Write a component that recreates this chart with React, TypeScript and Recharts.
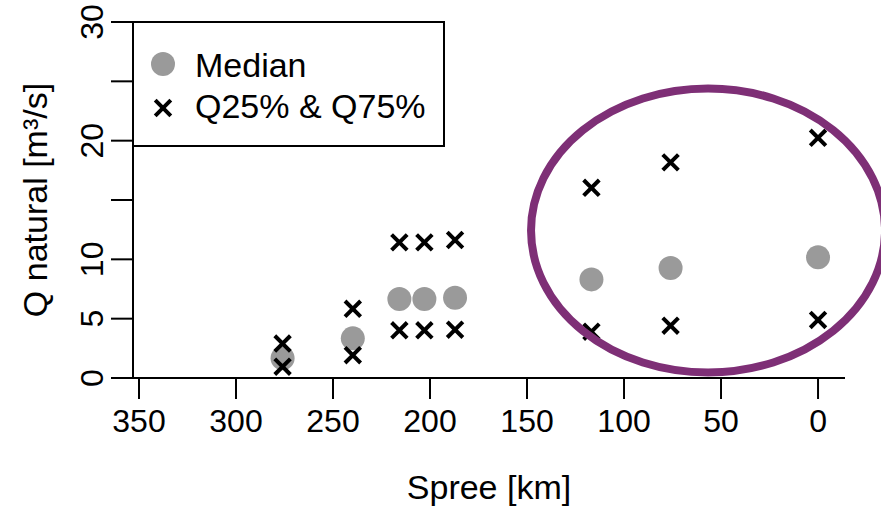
import { ScatterChart, Scatter, XAxis, YAxis, ReferenceDot, Label } from 'recharts'

const FONT = '"Liberation Sans", Arial, sans-serif'

// Spree river position (km) of each gauge
const riverKm = [276.0, 239.8, 215.8, 202.9, 187.1, 116.8, 76.0, 0]
// natural discharge statistics (m³/s)
const medianQ = [1.66, 3.34, 6.66, 6.66, 6.77, 8.31, 9.27, 10.17]
const q25 = [0.95, 1.92, 4.02, 4.02, 4.07, 3.9, 4.41, 4.89]
const q75 = [2.9, 5.83, 11.43, 11.43, 11.63, 16.03, 18.17, 20.24]

const xTicks = [350, 300, 250, 200, 150, 100, 50, 0]
const yTicks = [0, 5, 10, 15, 20, 25, 30]
const yTickLabels = ['0', '5', '10', '', '20', '', '30']
const legendLabels = ['Median', 'Q25% & Q75%']

// centre of the highlighted group (km, m³/s)
const highlightKm = 56.7
const highlightQ = 12.43

const medianData = riverKm.map((km, i) => ({ km, q: medianQ[i] }))
const quartileData = [
  ...riverKm.map((km, i) => ({ km, q: q25[i] })),
  ...riverKm.map((km, i) => ({ km, q: q75[i] })),
]

const GREY = '#9a9a9a'
const PURPLE = '#7e2f76'

function Dot({ cx, cy }: any) {
  return <circle cx={cx} cy={cy} r={12} fill={GREY} />
}

function Cross({ cx, cy }: any) {
  const h = 7.8
  return (
    <path
      d={`M${cx - h},${cy - h}L${cx + h},${cy + h}M${cx + h},${cy - h}L${cx - h},${cy + h}`}
      stroke="#000"
      strokeWidth={4}
      fill="none"
    />
  )
}

function XTick({ x, y, payload }: any) {
  return (
    <text x={x} y={y + 23} textAnchor="middle" fontSize={32} fontFamily={FONT} fill="#000">
      {payload.value}
    </text>
  )
}

function YTick({ x, y, payload }: any) {
  const label = yTickLabels[yTicks.indexOf(payload.value)]
  return (
    <text
      x={x}
      y={y}
      transform={`rotate(-90 ${x} ${y})`}
      textAnchor="middle"
      fontSize={32}
      fontFamily={FONT}
      fill="#000"
    >
      {label}
    </text>
  )
}

function Legend() {
  return (
    <svg
      width={881}
      height={506}
      style={{ position: 'absolute', left: 0, top: 0, pointerEvents: 'none' }}
    >
      <rect x={133} y={22} width={311} height={124} fill="#fff" stroke="#000" strokeWidth={2} />
      <Dot cx={163} cy={64} />
      <Cross cx={163} cy={108} />
      <text x={195} y={77} fontSize={34} fontFamily={FONT} fill="#000">
        {legendLabels[0]}
      </text>
      <text x={195} y={118} fontSize={34} fontFamily={FONT} fill="#000">
        {legendLabels[1]}
      </text>
    </svg>
  )
}

export default function App() {
  return (
    <div
      style={{
        position: 'absolute',
        left: 0,
        top: 0,
        width: 881,
        height: 506,
        background: '#fff',
        fontFamily: FONT,
      }}
    >
      <ScatterChart width={881} height={506} margin={{ top: 22, right: 36, bottom: 0, left: 0 }}>
        <XAxis
          type="number"
          dataKey="km"
          domain={[-13.9, 353.1]}
          allowDataOverflow
          reversed
          ticks={xTicks}
          interval={0}
          height={128}
          tickSize={21}
          tickMargin={10}
          stroke="#000"
          strokeWidth={2}
          tick={<XTick />}
        >
          <Label
            content={({ viewBox }: any) => (
              <text
                x={viewBox.x + viewBox.width / 2}
                y={viewBox.y + 121}
                textAnchor="middle"
                fontSize={34}
                fontFamily={FONT}
                fill="#000"
              >
                Spree [km]
              </text>
            )}
          />
        </XAxis>
        <YAxis
          type="number"
          dataKey="q"
          domain={[0, 30]}
          allowDataOverflow
          ticks={yTicks}
          interval={0}
          width={133}
          tickSize={22}
          tickMargin={8}
          stroke="#000"
          strokeWidth={2}
          tick={<YTick />}
        >
          <Label
            content={({ viewBox }: any) => {
              const cx = 47
              const cy = viewBox.y + viewBox.height / 2
              return (
                <text
                  x={cx}
                  y={cy}
                  transform={`rotate(-90 ${cx} ${cy})`}
                  textAnchor="middle"
                  fontSize={34}
                  fontFamily={FONT}
                  fill="#000"
                >
                  Q natural [m³/s]
                </text>
              )
            }}
          />
        </YAxis>
        <Scatter data={medianData} shape={<Dot />} isAnimationActive={false} />
        <Scatter data={quartileData} shape={<Cross />} isAnimationActive={false} />
        <ReferenceDot
          x={highlightKm}
          y={highlightQ}
          r={1}
          ifOverflow="visible"
          shape={(p: any) => (
            <ellipse cx={p.cx} cy={p.cy} rx={177} ry={142} fill="none" stroke={PURPLE} strokeWidth={8} />
          )}
        />
      </ScatterChart>
      <Legend />
    </div>
  )
}
